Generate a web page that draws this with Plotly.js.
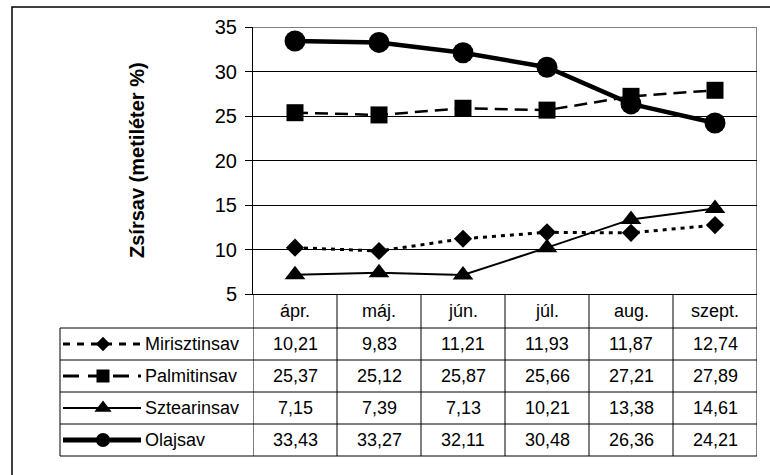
<!DOCTYPE html>
<html>
<head>
<meta charset="utf-8">
<script src="https://cdn.plot.ly/plotly-3.0.1.min.js"></script>
<style>html,body{margin:0;padding:0;background:#fff;}#chart{width:770px;height:475px;}</style>
</head>
<body>
<div id="chart"></div>
<script>
// ---- data ----
const categories = ['ápr.', 'máj.', 'jún.', 'júl.', 'aug.', 'szept.'];
const seriesNames = ['Mirisztinsav', 'Palmitinsav', 'Sztearinsav', 'Olajsav'];
const mirisztinsav = [10.21, 9.83, 11.21, 11.93, 11.87, 12.74];
const palmitinsav  = [25.37, 25.12, 25.87, 25.66, 27.21, 27.89];
const sztearinsav  = [7.15, 7.39, 7.13, 10.21, 13.38, 14.61];
const olajsav      = [33.43, 33.27, 32.11, 30.48, 26.36, 24.21];
const yTitle = 'Zsírsav (metiléter %)';

// ---- layout constants (pixels) ----
const W = 770, H = 475;
const plotL = 253, plotR = 757, plotT = 27, plotB = 294;
const tableL = 60, headB = 328, rowH = 32;
const px = x => x / W;
const py = y => 1 - y / H;
const FONT = 'Liberation Sans, Arial, sans-serif';

const seriesValues = [mirisztinsav, palmitinsav, sztearinsav, olajsav];
const styles = [
  {line: {color: '#000', width: 3, dash: '4px,5px'}, marker: {symbol: 'diamond', size: 14}, keyMarker: 11, keyDash: '7px,7px', keyW: 3},
  {line: {color: '#000', width: 2.5, dash: '13px,7px'}, marker: {symbol: 'square', size: 17}, keyMarker: 13, keyDash: '16px,9px', keyW: 3},
  {line: {color: '#000', width: 2}, marker: {symbol: 'triangle-up', size: 18}, keyMarker: 15, keyDash: 'solid', keyW: 2},
  {line: {color: '#000', width: 4.5}, marker: {symbol: 'circle', size: 21}, keyMarker: 14, keyDash: 'solid', keyW: 5}
];

const traces = [];
seriesNames.forEach((name, i) => {
  traces.push({
    type: 'scatter', mode: 'lines+markers', name: name,
    x: categories, y: seriesValues[i],
    line: styles[i].line,
    marker: Object.assign({color: '#000', opacity: 1, line: {width: 0}}, styles[i].marker),
    showlegend: false, xaxis: 'x', yaxis: 'y', hoverinfo: 'x+y+name', cliponaxis: false
  });
});
// legend keys drawn in the table's first column (pixel-space axes)
seriesNames.forEach((name, i) => {
  const yc = headB + rowH * i + rowH / 2;
  traces.push({
    type: 'scatter', mode: 'lines', name: name + ' key line',
    x: [63, 141], y: [yc, yc],
    line: {color: '#000', width: styles[i].keyW, dash: styles[i].keyDash},
    showlegend: false, xaxis: 'x2', yaxis: 'y2', hoverinfo: 'skip'
  });
  traces.push({
    type: 'scatter', mode: 'markers', name: name + ' key marker',
    x: [103], y: [yc],
    marker: {color: '#000', opacity: 1, symbol: styles[i].marker.symbol, size: styles[i].keyMarker, line: {width: 0}},
    showlegend: false, xaxis: 'x2', yaxis: 'y2', hoverinfo: 'skip'
  });
});

const shapes = [];
const annotations = [];
const tableBottom = headB + rowH * seriesNames.length;
// outer chart frame
shapes.push({type: 'rect', xref: 'paper', yref: 'paper', x0: px(12), x1: px(W + 10), y0: py(H + 10), y1: py(7), line: {color: '#000', width: 1.5}, layer: 'below'});
// plot area gray border (top / right)
shapes.push({type: 'line', xref: 'x', yref: 'y', x0: -0.5, x1: 5.5, y0: 35, y1: 35, line: {color: '#808080', width: 2}, layer: 'below'});
shapes.push({type: 'line', xref: 'x', yref: 'y', x0: 5.5, x1: 5.5, y0: 5, y1: 35, line: {color: '#808080', width: 2}, layer: 'below'});
// table vertical lines at category boundaries
for (let k = 0; k <= categories.length; k++) {
  shapes.push({type: 'line', xref: 'x', yref: 'paper', x0: k - 0.5, x1: k - 0.5, y0: py(plotB), y1: py(tableBottom), line: {color: '#000', width: 1}});
}
shapes.push({type: 'line', xref: 'paper', yref: 'paper', x0: px(tableL), x1: px(tableL), y0: py(headB), y1: py(tableBottom), line: {color: '#000', width: 1}});
// table horizontal lines
for (let r = 0; r <= seriesNames.length; r++) {
  const y = headB + rowH * r;
  shapes.push({type: 'line', xref: 'paper', yref: 'paper', x0: px(tableL), x1: px(plotR), y0: py(y), y1: py(y), line: {color: '#000', width: 1}});
}
// header categories
categories.forEach(c => {
  annotations.push({xref: 'x', yref: 'paper', x: c, y: py((plotB + headB) / 2), text: c, showarrow: false,
    font: {family: FONT, size: 18, color: '#000'}, xanchor: 'center', yanchor: 'middle'});
});
// values + series names
seriesNames.forEach((name, i) => {
  const yc = headB + rowH * i + rowH / 2;
  annotations.push({xref: 'paper', yref: 'paper', x: px(143), y: py(yc), text: name, showarrow: false,
    font: {family: FONT, size: 18, color: '#000'}, xanchor: 'left', yanchor: 'middle'});
  seriesValues[i].forEach((v, j) => {
    annotations.push({xref: 'x', yref: 'paper', x: categories[j], y: py(yc), text: v.toFixed(2).replace('.', ','), showarrow: false,
      font: {family: FONT, size: 18, color: '#000'}, xanchor: 'center', yanchor: 'middle'});
  });
});
// y axis title
annotations.push({xref: 'paper', yref: 'paper', x: px(137), y: py(160), text: '<b>' + yTitle + '</b>', textangle: -90, showarrow: false,
  font: {family: FONT, size: 20, color: '#000'}, xanchor: 'center', yanchor: 'middle'});

const layout = {
  width: W, height: H,
  margin: {l: 0, r: 0, t: 0, b: 0, pad: 0},
  paper_bgcolor: '#fff', plot_bgcolor: 'rgba(0,0,0,0)',
  showlegend: false,
  font: {family: FONT, color: '#000'},
  xaxis: {
    domain: [px(plotL), px(plotR)], type: 'category', range: [-0.5, 5.5],
    showticklabels: false, ticks: '', showgrid: false, zeroline: false,
    showline: true, linecolor: '#000', linewidth: 1, anchor: 'y', fixedrange: true
  },
  yaxis: {
    domain: [py(plotB), py(plotT)], range: [5, 35], dtick: 5, tick0: 5,
    ticks: 'outside', ticklen: 7, tickcolor: '#000', tickwidth: 1,
    showgrid: true, gridcolor: '#000', gridwidth: 1, zeroline: false,
    showline: true, linecolor: '#000', linewidth: 1, ticklabelstandoff: 4,
    tickfont: {family: FONT, size: 20, color: '#000'}, anchor: 'x', fixedrange: true
  },
  xaxis2: {domain: [0, 1], range: [0, W], visible: false, anchor: 'y2', fixedrange: true},
  yaxis2: {domain: [0, 1], range: [H, 0], visible: false, anchor: 'x2', fixedrange: true},
  shapes: shapes,
  annotations: annotations
};

Plotly.newPlot('chart', traces, layout, {displayModeBar: false, staticPlot: true});
</script>
</body>
</html>
